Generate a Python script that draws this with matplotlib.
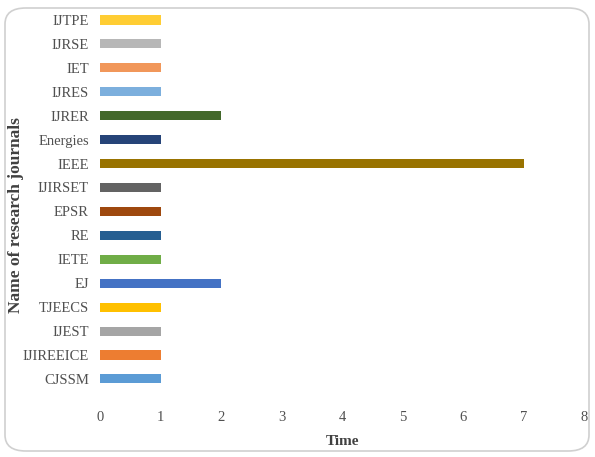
import matplotlib
matplotlib.use("Agg")
import matplotlib.pyplot as plt
from matplotlib.patches import FancyBboxPatch

# journals listed bottom to top, as drawn on the y axis
journals = ["CJSSM", "IJIREEICE", "IJEST", "TJEECS", "EJ", "IETE", "RE", "EPSR",
            "IJIRSET", "IEEE", "Energies", "IJRER", "IJRES", "IET", "IJRSE", "IJTPE"]
times = [1, 1, 1, 1, 2, 1, 1, 1, 1, 7, 1, 2, 1, 1, 1, 1]
colors = ["#5B9BD5", "#ED7D31", "#A5A5A5", "#FFC000", "#4472C4", "#70AD47",
          "#255E91", "#9E480E", "#636363", "#997300", "#264478", "#43682B",
          "#7CAFDD", "#F1975A", "#B7B7B7", "#FFCD33"]
xticks = [0, 1, 2, 3, 4, 5, 6, 7, 8]

plt.rcParams['font.family'] = ['Liberation Serif', 'DejaVu Serif']

W, H = 595, 457
fig = plt.figure(figsize=(W / 100, H / 100), dpi=100)

# rounded frame around the whole chart
frame = FancyBboxPatch((5 / W, 6 / H), 584 / W, 443 / H,
                       boxstyle="round,pad=0,rounding_size=0.035",
                       transform=fig.transFigure, facecolor="none",
                       edgecolor="#d0d0d0", linewidth=1.2, zorder=-5)
fig.patches.append(frame)

ax = fig.add_axes([100 / W, 57 / H, 484 / W, 392 / H])
ax.set_zorder(2)
ax.patch.set_alpha(0)
pos = list(range(len(journals)))
ax.barh(pos, times, height=0.38, color=colors)

ax.set_xlim(0, 8)
ax.set_ylim(-0.88, 15.5)
ax.set_xticks(xticks)
ax.set_yticks(pos)
ax.set_yticklabels(journals)
for s in ax.spines.values():
    s.set_visible(False)
ax.tick_params(axis="both", length=0, labelsize=10.5, labelcolor="#505050")
ax.tick_params(axis="x", pad=8)
ax.tick_params(axis="y", pad=8)

ax.set_xlabel("Time", fontsize=11, fontweight="bold", color="#404040", labelpad=8)
ax.set_ylabel("Name of research journals", fontsize=12.5, fontweight="bold",
              color="#404040")
ax.yaxis.set_label_coords(-0.158, 0.472)

fig.savefig("out.png", dpi=100)
